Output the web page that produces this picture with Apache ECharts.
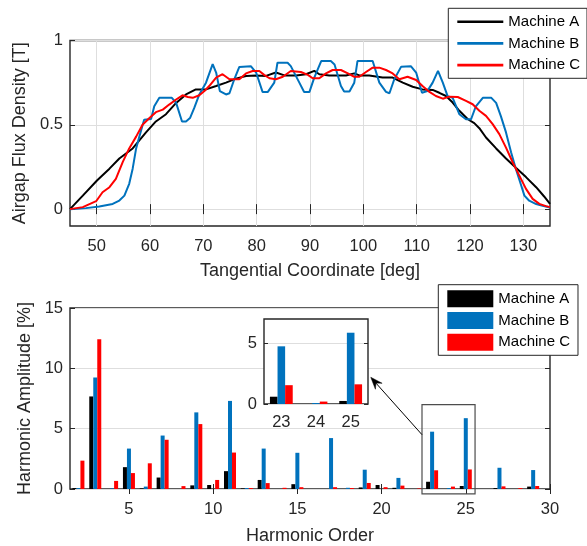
<!DOCTYPE html>
<html><head><meta charset="utf-8">
<script src="https://cdn.jsdelivr.net/npm/echarts@6/dist/echarts.min.js"></script>
<style>html,body{margin:0;padding:0;background:#fff}#c{width:587px;height:546px}</style>
</head><body><div id="c"></div>
<script>
// ---------- data ----------
const seriesNames = ['Machine A', 'Machine B', 'Machine C'];

// Airgap flux density [T] vs tangential coordinate [deg]
const lineA = [[45,0],[47.4,0.08],[50.06,0.17],[52.4,0.24],[54.25,0.30],[56.75,0.36],[59.25,0.455],[61.1,0.52],[63,0.563],[64.9,0.63],[66.75,0.68],[68.6,0.71],[70.5,0.71],[72.4,0.73],[74.25,0.75],[76.1,0.774],[78,0.79],[79.9,0.793],[81.75,0.79],[83.6,0.81],[85.2,0.793],[87.4,0.793],[89.25,0.80],[90.8,0.82],[91.75,0.80],[93.6,0.793],[96.75,0.793],[98.3,0.805],[99.25,0.793],[101.1,0.793],[103.6,0.78],[105.5,0.78],[107.4,0.75],[109.25,0.726],[111.1,0.71],[113,0.707],[114.25,0.69],[115.5,0.671],[116.75,0.632],[118,0.583],[119.6,0.533],[120.8,0.51],[121.75,0.48],[123,0.425],[124.9,0.36],[126.75,0.30],[128.6,0.245],[130.5,0.19],[132.4,0.13],[133.9,0.075],[135,0.031]];
const lineB = [[45,0],[48,0.006],[50.5,0.016],[53,0.031],[54.25,0.051],[55.2,0.08],[56.1,0.15],[56.75,0.24],[57.4,0.36],[58,0.43],[58.9,0.53],[60.2,0.535],[60.8,0.61],[61.75,0.66],[64.1,0.66],[64.9,0.63],[66,0.52],[66.75,0.52],[67.5,0.54],[68.3,0.60],[69.25,0.68],[70.5,0.75],[71.75,0.86],[72.4,0.81],[73.1,0.70],[74.25,0.68],[74.9,0.687],[75.8,0.77],[76.75,0.843],[78.9,0.848],[79.9,0.81],[81.1,0.695],[82.1,0.695],[83.3,0.75],[83.9,0.868],[85.8,0.868],[86.4,0.848],[88,0.75],[88.9,0.695],[89.9,0.695],[90.8,0.78],[92.1,0.878],[93.9,0.878],[94.6,0.858],[95.8,0.73],[96.4,0.697],[97.4,0.697],[98.3,0.75],[98.9,0.878],[101.75,0.878],[103,0.75],[104.25,0.695],[104.9,0.687],[105.8,0.77],[107.1,0.845],[108.9,0.848],[109.9,0.81],[111,0.69],[112,0.70],[113,0.75],[114,0.82],[114.9,0.75],[115.8,0.67],[116.75,0.66],[118,0.563],[119.25,0.533],[120.2,0.533],[121.1,0.61],[122.4,0.66],[124,0.66],[124.9,0.63],[125.8,0.55],[126.75,0.455],[127.7,0.337],[128.6,0.238],[129.6,0.14],[130.2,0.08],[131.1,0.05],[132.4,0.03],[133.6,0.02],[135,0.01]];
const lineC = [[45,0],[47.4,0.012],[49.9,0.047],[51.1,0.10],[52.4,0.13],[53.6,0.18],[54.9,0.28],[56.1,0.36],[57.4,0.43],[58.6,0.50],[59.9,0.54],[61.1,0.575],[62.4,0.59],[63.6,0.62],[64.9,0.65],[66.1,0.675],[67.1,0.665],[68,0.66],[69.25,0.675],[70.2,0.70],[71.1,0.73],[72.4,0.78],[73.6,0.80],[74.9,0.77],[76.75,0.77],[78,0.805],[79.25,0.819],[80.5,0.819],[81.4,0.796],[82.4,0.776],[83.6,0.77],[84.9,0.785],[86.4,0.819],[88.3,0.813],[89.6,0.796],[90.5,0.776],[91.75,0.776],[93,0.805],[94.25,0.825],[95.8,0.825],[97.1,0.805],[98.3,0.785],[99.25,0.785],[100.5,0.813],[101.75,0.839],[103,0.839],[104.25,0.825],[105.5,0.805],[106.75,0.77],[108.3,0.785],[109.9,0.766],[111.1,0.73],[112.4,0.695],[113.6,0.671],[114.9,0.655],[116.1,0.667],[117.7,0.665],[119.25,0.642],[120.5,0.622],[121.75,0.583],[123,0.553],[124.25,0.504],[125.5,0.445],[126.75,0.365],[128,0.278],[129.25,0.199],[130.5,0.12],[131.75,0.061],[133,0.031],[134.25,0.018],[135,0.012]];

// Harmonic amplitude [%] per harmonic order
const harmonics = [2,3,4,5,6,7,8,9,10,11,12,13,14,15,16,17,18,19,20,21,22,23,24,25,26,27,28,29,30];
const ampA = [0.08,7.67,0.0,1.81,0.05,0.95,0.0,0.3,0.33,1.48,0.05,0.75,0.0,0.4,0.0,0.0,0.0,0.13,0.33,0.1,0.0,0.6,0.0,0.25,0.0,0.08,0.0,0.2,0.0];
const ampB = [0.08,9.24,0.05,3.35,0.2,4.43,0.0,6.35,0.0,7.3,0.08,3.35,0.0,3.0,0.0,4.22,0.1,1.6,0.0,0.92,0.0,4.75,0.08,5.87,0.0,1.76,0.0,1.57,0.0];
const ampC = [2.35,12.4,0.67,1.32,2.13,4.08,0.24,5.38,0.75,3.02,0.08,0.49,0.1,0.15,0.0,0.15,0.08,0.5,0.15,0.28,0.05,1.55,0.2,1.62,0.0,0.22,0.08,0.25,0.0];

// tick labels
const topXTicks = [50,60,70,80,90,100,110,120,130];
const topYTicks = [0,0.5,1];
const botXTicks = [5,10,15,20,25,30];
const botYTicks = [0,5,10,15];
const insetHarmonics = [23,24,25];
const insetYTicks = [0,5];

// annotation (data space): zoom box in lower plot [x0, x1, y0, y1], arrow ends
const zoomBox = [22.4, 25.55, -0.4, 7.0];
const arrowFrom = [22.4, 4.5];   // lower plot data coords
const arrowTo = [25.58, 2.2];    // inset data coords

// ---------- chart ----------
const colors = ['#000000', '#0072BD', '#FF0000'];
const axisColor = '#262626';
const gridColor = '#dedede';
const font = '"Liberation Sans", Arial, Helvetica, sans-serif';
const tickFont = 16.5, titleFont = 18;

const chart = echarts.init(document.getElementById('c'), null, {renderer: 'canvas'});

function tick(values, len) {
  return {show: true, inside: true, length: len || 5, customValues: values, lineStyle: {color: axisColor, width: 1}};
}
function label(values, margin, fs) {
  return {show: true, customValues: values, margin: margin, fontSize: fs || tickFont, color: axisColor, fontFamily: font};
}
const noLine = {show: false};
const split = {show: true, lineStyle: {color: gridColor, width: 1}};

const ampSeries = [ampA, ampB, ampC];
const lines = [lineA, lineB, lineC];

const option = {
  animation: false,
  backgroundColor: '#fff',
  textStyle: {fontFamily: font},
  grid: [
    {left: 70, top: 40.5, width: 480, height: 185.5, show: true, borderColor: axisColor, borderWidth: 1.4, backgroundColor: 'transparent'},
    {left: 70, top: 308, width: 480, height: 184, show: true, borderColor: axisColor, borderWidth: 1.4, backgroundColor: 'transparent'},
    {left: 264, top: 319, width: 104, height: 85, show: true, borderColor: axisColor, borderWidth: 1.4, backgroundColor: '#ffffff', z: 5}
  ],
  xAxis: [
    {gridIndex: 0, type: 'value', min: 45, max: 135, position: 'bottom', axisLine: noLine,
     axisTick: tick(topXTicks), axisLabel: label(topXTicks, 12), splitLine: split,
     name: 'Tangential Coordinate [deg]', nameLocation: 'middle', nameGap: 36,
     nameTextStyle: {fontSize: titleFont, color: axisColor, fontFamily: font}},
    {gridIndex: 0, type: 'value', min: 45, max: 135, position: 'top', axisLine: noLine,
     axisTick: tick(topXTicks), axisLabel: {show: false}, splitLine: {show: false}},
    {gridIndex: 1, type: 'value', min: 1.5, max: 30, position: 'bottom', axisLine: noLine,
     axisTick: tick(botXTicks), axisLabel: label(botXTicks, 12), splitLine: {show: false},
     name: 'Harmonic Order', nameLocation: 'middle', nameGap: 38,
     nameTextStyle: {fontSize: titleFont, color: axisColor, fontFamily: font}},
    {gridIndex: 1, type: 'value', min: 1.5, max: 30, position: 'top', axisLine: noLine,
     axisTick: tick(botXTicks), axisLabel: {show: false}, splitLine: {show: false}},
    {gridIndex: 2, type: 'value', min: 22.5, max: 25.5, position: 'bottom', axisLine: noLine, z: 6,
     axisTick: {show: false, customValues: insetHarmonics}, axisLabel: label(insetHarmonics, 10), splitLine: {show: false}}
  ],
  yAxis: [
    {gridIndex: 0, type: 'value', min: -0.1, max: 1, position: 'left', axisLine: noLine,
     axisTick: tick(topYTicks), axisLabel: label(topYTicks, 7), splitLine: split,
     name: 'Airgap Flux Density [T]', nameLocation: 'middle', nameGap: 34, nameRotate: 90,
     nameTextStyle: {fontSize: titleFont, color: axisColor, fontFamily: font}},
    {gridIndex: 0, type: 'value', min: -0.1, max: 1, position: 'right', axisLine: noLine,
     axisTick: tick(topYTicks), axisLabel: {show: false}, splitLine: {show: false}},
    {gridIndex: 1, type: 'value', min: 0, max: 15, position: 'left', axisLine: noLine,
     axisTick: tick(botYTicks), axisLabel: label(botYTicks, 7), splitLine: split,
     name: 'Harmonic Amplitude [%]', nameLocation: 'middle', nameGap: 34, nameRotate: 90,
     nameTextStyle: {fontSize: titleFont, color: axisColor, fontFamily: font}},
    {gridIndex: 1, type: 'value', min: 0, max: 15, position: 'right', axisLine: noLine,
     axisTick: tick(botYTicks), axisLabel: {show: false}, splitLine: {show: false}},
    {gridIndex: 2, type: 'value', min: 0, max: 7, position: 'left', axisLine: noLine, z: 6,
     axisTick: tick(insetYTicks, 4), axisLabel: label(insetYTicks, 7), splitLine: split},
    {gridIndex: 2, type: 'value', min: 0, max: 7, position: 'right', axisLine: noLine, z: 6,
     axisTick: tick(insetYTicks, 4), axisLabel: {show: false}, splitLine: {show: false}}
  ],
  legend: [
    {data: seriesNames, orient: 'vertical', left: 448.3, top: 8.3, icon: 'rect',
     itemWidth: 46, itemHeight: 2.6, itemGap: 5.7, padding: [5.4, 7, 5.2, 9],
     borderColor: axisColor, borderWidth: 1, backgroundColor: '#fff', selectedMode: false,
     textStyle: {fontSize: 15, color: '#000', lineHeight: 16, fontFamily: font}, z: 10},
    {data: seriesNames, orient: 'vertical', left: 438.3, top: 284.7, icon: 'rect',
     itemWidth: 46, itemHeight: 17, itemGap: 4.8, padding: [5.5, 8, 4.5, 9],
     borderColor: axisColor, borderWidth: 1, backgroundColor: '#fff', selectedMode: false,
     textStyle: {fontSize: 15, color: '#000', lineHeight: 16, fontFamily: font}, z: 10}
  ],
  series: []
};

seriesNames.forEach((name, k) => {
  option.series.push({
    name: name, type: 'line', xAxisIndex: 0, yAxisIndex: 0, data: lines[k],
    showSymbol: false, symbol: 'none', smooth: false, color: colors[k],
    lineStyle: {width: 2, color: colors[k]}, z: 3
  });
});
seriesNames.forEach((name, k) => {
  option.series.push({
    name: name, type: 'bar', xAxisIndex: 2, yAxisIndex: 2,
    data: harmonics.map((h, i) => [h, ampSeries[k][i]]),
    barWidth: 4, barGap: '0%', color: colors[k], itemStyle: {color: colors[k]}, z: 2
  });
});
seriesNames.forEach((name, k) => {
  option.series.push({
    name: name, type: 'bar', xAxisIndex: 4, yAxisIndex: 4,
    data: insetHarmonics.map(h => [h, ampSeries[k][harmonics.indexOf(h)]]),
    barWidth: 7.6, barGap: '0%', color: colors[k], itemStyle: {color: colors[k]}, z: 7
  });
});

chart.setOption(option);

// annotation rectangle and arrow positioned through the axes' own scales
const tl = chart.convertToPixel({xAxisIndex: 2, yAxisIndex: 2}, [zoomBox[0], zoomBox[3]]);
const br = chart.convertToPixel({xAxisIndex: 2, yAxisIndex: 2}, [zoomBox[1], zoomBox[2]]);
const a0 = chart.convertToPixel({xAxisIndex: 2, yAxisIndex: 2}, arrowFrom);
const a1 = chart.convertToPixel({xAxisIndex: 4, yAxisIndex: 4}, arrowTo);
const dx = a1[0] - a0[0], dy = a1[1] - a0[1];
const len = Math.sqrt(dx * dx + dy * dy);
const ux = dx / len, uy = dy / len, px = -uy, py = ux;
const L = 12, W = 4.5;
const back = [a1[0] - L * ux, a1[1] - L * uy];
const notch = [a1[0] - 0.65 * L * ux, a1[1] - 0.65 * L * uy];
chart.setOption({
  graphic: [
    {type: 'rect', z: 100, silent: true,
     shape: {x: tl[0], y: tl[1], width: br[0] - tl[0], height: br[1] - tl[1]},
     style: {fill: 'none', stroke: '#4d4d4d', lineWidth: 1.2}},
    {type: 'line', z: 100, silent: true,
     shape: {x1: a0[0], y1: a0[1], x2: notch[0], y2: notch[1]},
     style: {stroke: '#000', lineWidth: 1}},
    {type: 'polygon', z: 100, silent: true,
     shape: {points: [a1, [back[0] + W * px, back[1] + W * py], notch, [back[0] - W * px, back[1] - W * py]]},
     style: {fill: '#000', stroke: '#000', lineWidth: 0.5}}
  ]
});
</script>
</body></html>
